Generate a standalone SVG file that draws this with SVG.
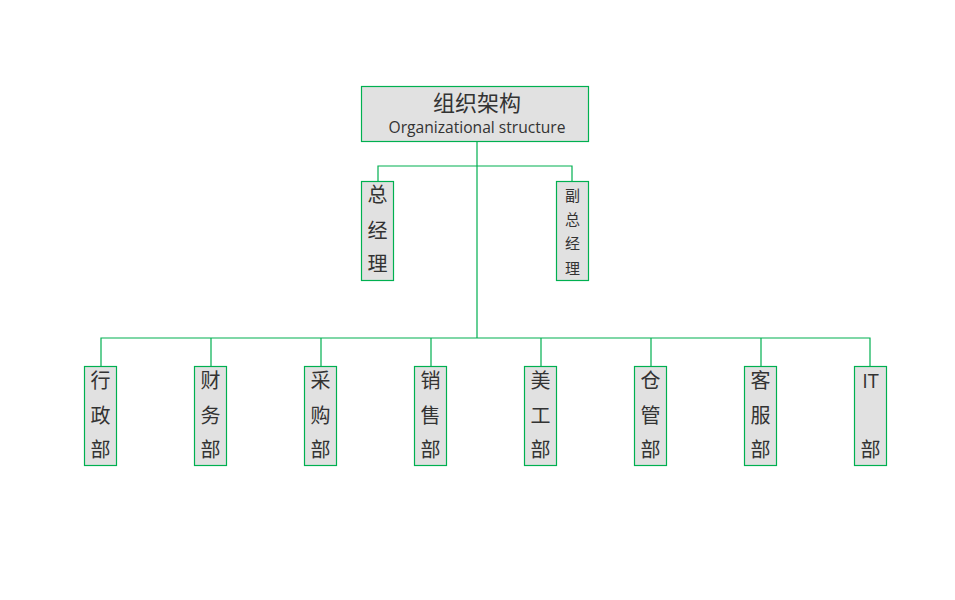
<svg xmlns="http://www.w3.org/2000/svg" width="955" height="600" viewBox="0 0 955 600">
<style>
.box{fill:#e1e1e1;stroke:#00b050;stroke-width:1.2}
.ln{fill:none;stroke:#00b050;stroke-width:1.2}
text{font-family:"Open Sans","Noto Sans CJK SC",sans-serif;fill:#333;text-anchor:middle}
.v{font-size:20px}
.s{font-size:15px}
</style>
<rect width="955" height="600" fill="#fff"/>
<g id="connectors">
<path class="ln" d="M477 141V338M378 181V166H572V181M101 366V338H870V366M211 338V366M321 338V366M431 338V366M541 338V366M651 338V366M761 338V366"/>
</g>
<g id="root"><rect class="box" x="361.5" y="86.5" width="227" height="55"/>
<text x="477" y="111" style="font-size:22px">组织架构</text>
<text x="477" y="133" style="font-size:16px" textLength="177" lengthAdjust="spacingAndGlyphs">Organizational structure</text></g>
<g id="gm"><rect class="box" x="361.5" y="181.5" width="32" height="99"/>
<text class="v" x="377.5" y="202">总</text><text class="v" x="377.5" y="238">经</text><text class="v" x="377.5" y="271">理</text></g>
<g id="vgm"><rect class="box" x="556.5" y="181.5" width="32" height="99"/>
<text class="s" x="572.5" y="201">副</text><text class="s" x="572.5" y="225">总</text><text class="s" x="572.5" y="249">经</text><text class="s" x="572.5" y="274">理</text></g>
<g id="d1"><rect class="box" x="84.5" y="366.5" width="32" height="99"/><text class="v" x="100.5" y="388">行</text><text class="v" x="100.5" y="423">政</text><text class="v" x="100.5" y="457">部</text></g>
<g id="d2"><rect class="box" x="194.5" y="366.5" width="32" height="99"/><text class="v" x="210.5" y="388">财</text><text class="v" x="210.5" y="423">务</text><text class="v" x="210.5" y="457">部</text></g>
<g id="d3"><rect class="box" x="304.5" y="366.5" width="32" height="99"/><text class="v" x="320.5" y="388">采</text><text class="v" x="320.5" y="423">购</text><text class="v" x="320.5" y="457">部</text></g>
<g id="d4"><rect class="box" x="414.5" y="366.5" width="32" height="99"/><text class="v" x="430.5" y="388">销</text><text class="v" x="430.5" y="423">售</text><text class="v" x="430.5" y="457">部</text></g>
<g id="d5"><rect class="box" x="524.5" y="366.5" width="32" height="99"/><text class="v" x="540.5" y="388">美</text><text class="v" x="540.5" y="423">工</text><text class="v" x="540.5" y="457">部</text></g>
<g id="d6"><rect class="box" x="634.5" y="366.5" width="32" height="99"/><text class="v" x="650.5" y="388">仓</text><text class="v" x="650.5" y="423">管</text><text class="v" x="650.5" y="457">部</text></g>
<g id="d7"><rect class="box" x="744.5" y="366.5" width="32" height="99"/><text class="v" x="760.5" y="388">客</text><text class="v" x="760.5" y="423">服</text><text class="v" x="760.5" y="457">部</text></g>
<g id="d8"><rect class="box" x="854.5" y="366.5" width="32" height="99"/><text class="v" x="870.5" y="388">IT</text><text class="v" x="870.5" y="457">部</text></g>
</svg>
